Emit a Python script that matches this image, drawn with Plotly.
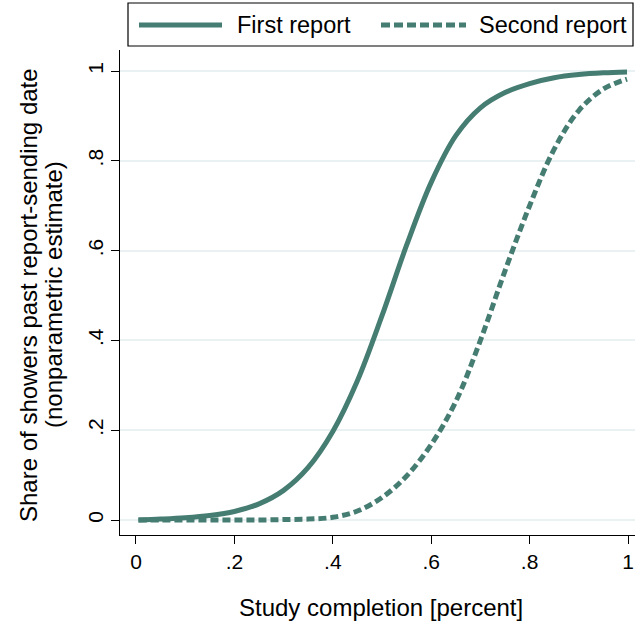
import plotly.graph_objects as go

# ---- data ----
completion = [0.005, 0.05, 0.1, 0.15, 0.2, 0.25, 0.3, 0.35, 0.4, 0.45, 0.5,
              0.55, 0.6, 0.65, 0.7, 0.75, 0.8, 0.85, 0.9, 0.95, 0.998]
first_report = [0.0, 0.002, 0.005, 0.010, 0.019, 0.036, 0.066, 0.117, 0.197, 0.31, 0.455,
                0.612, 0.752, 0.856, 0.918, 0.952, 0.972, 0.985, 0.992, 0.996, 0.998]
second_report = [0.0, 0.0, 0.0, 0.0, 0.0, 0.0, 0.001, 0.002, 0.006, 0.02, 0.05,
                 0.098, 0.168, 0.264, 0.40, 0.555, 0.70, 0.826, 0.912, 0.96, 0.982]
series_names = ["First report", "Second report"]
x_ticks = [0, 0.2, 0.4, 0.6, 0.8, 1]
x_tick_labels = ["0", ".2", ".4", ".6", ".8", "1"]
y_ticks = [0, 0.2, 0.4, 0.6, 0.8, 1]
y_tick_labels = ["0", ".2", ".4", ".6", ".8", "1"]
x_title = "Study completion [percent]"
y_title_lines = ["Share of showers past report-sending date", "(nonparametric estimate)"]

W, H = 635, 627
ML, MR, MT, MB = 120, 0, 50, 92
COLOR = "#467d72"
FONT = "Liberation Sans, Arial, sans-serif"
TITLE_FS = 24

fig = go.Figure()
fig.add_trace(go.Scatter(x=completion, y=first_report, mode="lines", name=series_names[0],
                         line=dict(color=COLOR, width=5, shape="spline", smoothing=1.0)))
fig.add_trace(go.Scatter(x=completion, y=second_report, mode="lines", name=series_names[1],
                         line=dict(color=COLOR, width=5, dash="8px,4px", shape="spline", smoothing=1.0)))

fig.update_layout(
    width=W, height=H,
    margin=dict(l=ML, r=MR, t=MT, b=MB),
    paper_bgcolor="white", plot_bgcolor="white",
    showlegend=False,
    font=dict(family=FONT, size=21, color="black"),
)
fig.update_xaxes(range=[-0.0325, 1.0142], tickvals=x_ticks, ticktext=x_tick_labels,
                 tickfont=dict(family=FONT, size=21, color="black"),
                 showgrid=False, zeroline=False, showline=True, linecolor="black", linewidth=1,
                 ticks="outside", ticklen=8, tickcolor="black")
fig.update_yaxes(range=[-0.0334, 1.0468], tickvals=y_ticks, ticktext=y_tick_labels, tickangle=-90,
                 tickfont=dict(family=FONT, size=21, color="black"),
                 showgrid=True, gridcolor="#e9f1f2", gridwidth=1.5, zeroline=False,
                 showline=True, linecolor="black", linewidth=1,
                 ticks="outside", ticklen=8, tickcolor="black")

pw, ph = W - ML - MR, H - MT - MB
def px(x):
    return (x - ML) / pw
def py(y):
    return (H - MB - y) / ph

# axis titles (as annotations for exact placement / tight line spacing)
fig.add_annotation(xref="paper", yref="paper", x=px(381), y=py(607), xanchor="center", yanchor="middle",
                   text=x_title, showarrow=False, font=dict(family=FONT, size=TITLE_FS, color="black"))
fig.add_annotation(xref="paper", yref="paper", x=px(28), y=py(295), xanchor="center", yanchor="middle",
                   text=y_title_lines[0], textangle=-90, showarrow=False,
                   font=dict(family=FONT, size=TITLE_FS, color="black"))
fig.add_annotation(xref="paper", yref="paper", x=px(53), y=py(295), xanchor="center", yanchor="middle",
                   text=y_title_lines[1], textangle=-90, showarrow=False,
                   font=dict(family=FONT, size=TITLE_FS, color="black"))

# ---- custom legend (wide line samples like the reference) ----
fig.add_shape(type="rect", xref="paper", yref="paper", x0=px(128), x1=px(633), y0=py(46), y1=py(3),
              line=dict(color="black", width=1.2), fillcolor="white")
fig.add_shape(type="line", xref="paper", yref="paper", x0=px(139), x1=px(222), y0=py(25), y1=py(25),
              line=dict(color=COLOR, width=5))
fig.add_shape(type="line", xref="paper", yref="paper", x0=px(381), x1=px(466), y0=py(25), y1=py(25),
              line=dict(color=COLOR, width=5, dash="9px,4px"))
fig.add_annotation(xref="paper", yref="paper", x=px(235), y=py(25), xanchor="left", yanchor="middle",
                   text=series_names[0], showarrow=False, font=dict(family=FONT, size=23.5, color="black"))
fig.add_annotation(xref="paper", yref="paper", x=px(477), y=py(25), xanchor="left", yanchor="middle",
                   text=series_names[1], showarrow=False, font=dict(family=FONT, size=23.5, color="black"))

fig.write_html("out.html")
